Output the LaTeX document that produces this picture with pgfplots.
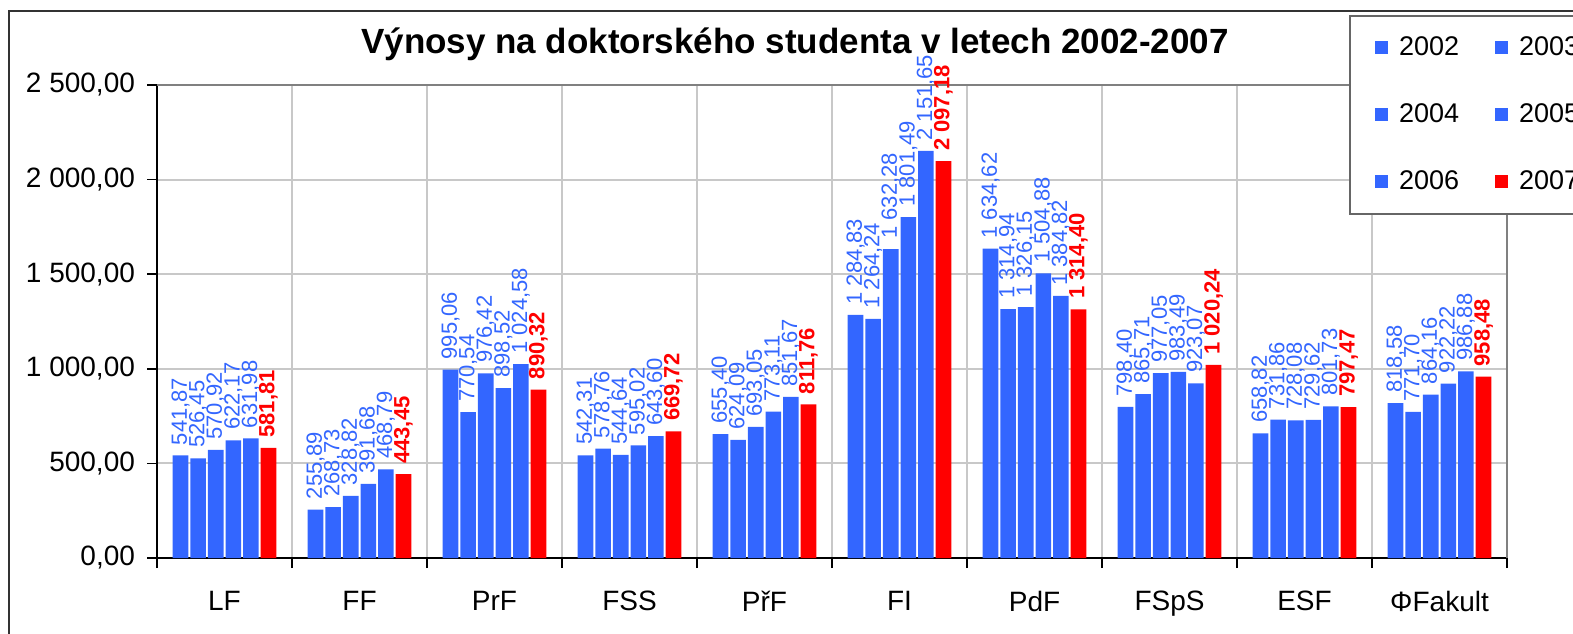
\documentclass[border=0pt]{standalone}
\usepackage{fontspec}
\setmainfont{Liberation Sans}
\usepackage{pgfplots}
\usepackage{pgfplotstable}
\pgfplotsset{compat=1.18}
\definecolor{barblue}{RGB}{51,102,255}
\definecolor{barred}{RGB}{255,0,0}
\definecolor{gridgray}{RGB}{200,200,200}
\pgfplotsset{sqlegend/.style={legend image code/.code={\fill[##1,draw=none] (0pt,-3.25pt) rectangle (6.5pt,3.25pt);}}}
\newcommand{\lgf}{\fontsize{13.5}{16}\selectfont}

\pgfplotstableread{
x y2002 y2003 y2004 y2005 y2006 y2007
0 541.87 526.45 570.92 622.17 631.98 581.81
1 255.89 268.73 328.82 391.68 468.79 443.45
2 995.06 770.54 976.42 898.52 1024.58 890.32
3 542.31 578.76 544.64 595.02 643.60 669.72
4 655.40 624.09 693.05 773.11 851.67 811.76
5 1284.83 1264.24 1632.28 1801.49 2151.65 2097.18
6 1634.62 1314.94 1326.15 1504.88 1384.82 1314.40
7 798.40 865.71 977.05 983.49 923.07 1020.24
8 658.82 731.86 728.08 729.62 801.73 797.47
9 818.58 771.70 864.16 922.22 986.88 958.48
}\data

\begin{document}
\begin{tikzpicture}
\useasboundingbox (0pt,0pt) rectangle (786.5pt,316.5pt);
\draw[black!80, line width=1pt] (4.6pt,-2pt) -- (4.6pt,311pt) -- (800pt,311pt);
\begin{axis}[
  at={(78.5pt,37.5pt)}, anchor=south west,
  scale only axis, width=675pt, height=236.5pt,
  xmin=-0.5, xmax=9.5, ymin=0, ymax=2500,
  clip=false,
  axis x line*=bottom, axis y line*=left,
  axis line style={black, line width=0.8pt},
  ybar=1pt, bar width=7.8pt,
  xtick={-0.5,0.5,...,9.5}, xticklabel={\relax},
  extra x ticks={0,1,2,3,4,5,6,7,8,9},
  extra x tick labels={LF,FF,PrF,FSS,PřF,FI,PdF,FSpS,ESF,ΦFakult},
  extra x tick style={major tick length=0pt, grid=none, xticklabel style={yshift=-13pt}},
  ytick={0,500,1000,1500,2000,2500},
  yticklabels={{0,00},{500,00},{1 000,00},{1 500,00},{2 000,00},{2 500,00}},
  yticklabel style={xshift=-2.5pt},
  tick align=outside, major tick length=5pt,
  tick style={black, line width=0.8pt},
  grid=major, major grid style={gridgray, line width=1pt},
  ticklabel style={font=\fontsize{14}{16}\selectfont},
  title={Výnosy na doktorského studenta v letech 2002-2007},
  title style={at={(axis description cs:0.4726,1.0402)}, anchor=base, font=\fontsize{17.5}{21}\selectfont\bfseries},
  nodes near coords={\pgfmathprintnumber[fixed,fixed zerofill,precision=2,use comma,1000 sep={\ },assume math mode=true]{\pgfplotspointmeta}},
  every node near coord/.append style={rotate=90, anchor=west, inner xsep=5pt, inner ysep=0pt, font=\fontsize{11}{13}\selectfont, text=barblue},
  legend columns=2,
  legend cell align=left,
  legend style={at={(axis description cs:0.883,1.148)}, anchor=north west, draw=black!60, line width=1pt, fill=white,
    font=\lgf,
    inner xsep=12.5pt, inner ysep=8.5pt, row sep=18.5pt,
    /tikz/every odd column/.append style={column sep=3.5pt},
    /tikz/every even column/.append style={column sep=16pt}},
]
\addplot[fill=barblue, draw=none, sqlegend] table[x=x,y=y2002]{\data};
\addplot[fill=barblue, draw=none, sqlegend] table[x=x,y=y2003]{\data};
\addplot[fill=barblue, draw=none, sqlegend] table[x=x,y=y2004]{\data};
\addplot[fill=barblue, draw=none, sqlegend] table[x=x,y=y2005]{\data};
\addplot[fill=barblue, draw=none, sqlegend] table[x=x,y=y2006]{\data};
\addplot[fill=barred, draw=none, sqlegend, every node near coord/.append style={text=barred, font=\fontsize{11}{13}\selectfont\bfseries}] table[x=x,y=y2007]{\data};
\legend{{\lgf 2002},{\lgf 2003},{\lgf 2004},{\lgf 2005},{\lgf 2006},{\lgf 2007}}
\draw[black!50, line width=1pt] (rel axis cs:0,1) -- (rel axis cs:1,1) -- (rel axis cs:1,0);
\end{axis}
\end{tikzpicture}
\end{document}
